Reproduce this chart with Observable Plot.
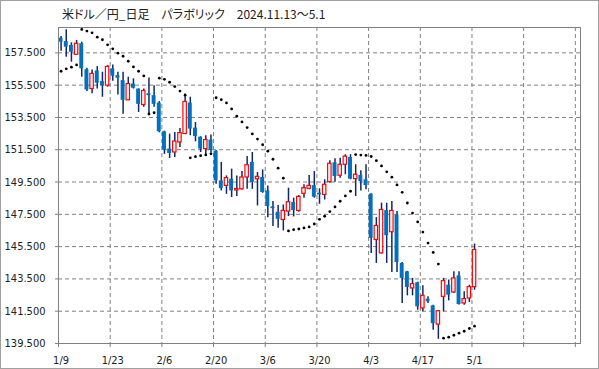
<!DOCTYPE html>
<html><head><meta charset="utf-8">
<script src="https://cdn.jsdelivr.net/npm/d3@7"></script>
<script src="https://cdn.jsdelivr.net/npm/@observablehq/plot@0.6"></script>
<style>
html,body{margin:0;padding:0;background:#fff;}
#wrap{position:relative;width:599px;height:369px;overflow:hidden;}
#border{position:absolute;left:0;top:0;width:597px;height:367px;border:1px solid #a0a0a0;pointer-events:none;}
#title{position:absolute;left:62px;top:6px;font-family:"Noto Sans CJK JP",sans-serif;font-size:12px;line-height:16px;color:#222;white-space:pre;font-feature-settings:"palt";}
svg{display:block;}
</style></head><body>
<div id="wrap"><div id="title">米ドル／円_日足　パラボリック　2024.11.13〜5.1</div><div id="border"></div></div>
<script>
const tickLabels = ["1/9","1/23","2/6","2/20","3/6","3/20","4/3","4/17","5/1"];
const yTicks = [139.5,141.5,143.5,145.5,147.5,149.5,151.5,153.5,155.5,157.5];
const openP = [158.41,158.20,157.96,157.38,158.06,156.46,155.26,156.38,155.72,155.47,
  156.51,156.09,155.78,154.56,155.57,155.26,154.27,154.97,154.85,154.39,
  152.61,151.54,151.33,151.95,152.47,154.39,152.84,152.28,151.54,152.10,
  151.41,149.57,149.26,149.67,148.98,149.05,149.78,150.71,149.67,149.78,
  148.95,147.96,147.63,147.15,147.67,148.23,147.71,148.77,149.08,149.28,
  148.81,148.70,149.49,150.69,149.89,150.57,151.02,149.68,149.91,149.64,
  148.75,145.91,145.08,147.73,146.39,147.46,144.46,143.94,142.91,143.26,
  141.67,142.25,141.83,140.67,142.39,143.11,142.66,143.69,141.98,142.29,142.99];
const highP = [158.51,158.93,158.12,158.27,158.16,156.55,156.44,156.65,156.30,156.71,
  156.75,156.30,156.30,155.99,155.89,155.26,155.26,155.95,155.47,154.48,
  152.65,152.47,152.57,152.82,154.95,154.75,153.19,152.30,152.37,152.41,
  151.45,150.71,149.88,150.30,149.88,150.15,151.08,151.33,150.09,150.25,
  149.26,148.30,148.04,148.08,149.12,148.50,148.66,149.33,149.90,150.15,
  149.08,149.64,150.82,150.94,150.98,151.19,151.19,150.57,150.20,150.57,
  148.78,147.30,148.19,148.19,148.29,147.67,144.52,143.97,143.53,143.30,
  143.07,142.39,141.87,141.55,143.53,143.43,143.94,143.94,142.70,143.11,145.66];
const lowP = [157.60,157.23,156.92,157.38,155.99,155.10,154.97,155.26,154.75,155.37,
  155.74,154.89,153.69,154.56,155.26,153.81,154.13,153.61,154.13,152.55,
  151.21,150.96,151.02,151.64,152.47,152.37,151.99,151.33,151.16,151.33,
  149.36,148.95,148.74,148.54,148.60,149.00,149.05,149.05,148.02,148.80,
  147.29,146.75,146.63,146.47,147.36,147.34,147.63,148.50,149.02,148.50,
  148.12,148.39,149.43,149.49,149.74,149.95,149.64,148.60,148.95,149.02,
  145.08,144.46,145.05,144.46,143.90,143.90,141.98,142.45,142.45,141.56,
  141.46,141.98,140.32,139.76,141.46,142.14,142.60,141.88,141.87,142.04,142.80];
const closeP = [158.16,157.85,157.54,158.06,156.51,155.20,156.20,155.62,155.47,156.63,
  156.05,155.93,154.56,155.57,155.31,154.31,155.14,154.85,154.31,152.61,
  151.48,151.27,152.01,152.53,154.46,152.78,152.32,151.54,152.10,151.45,
  149.57,149.09,149.74,148.95,149.07,149.78,150.54,149.47,149.82,148.85,
  147.98,147.85,147.19,147.71,148.25,147.73,148.58,149.12,149.26,148.56,
  148.70,149.33,150.63,149.84,150.57,151.07,149.68,149.95,149.53,149.28,
  146.01,146.78,147.77,146.18,147.71,144.52,143.53,142.97,143.18,141.77,
  142.45,142.08,140.73,141.50,143.36,142.49,143.53,141.91,142.25,142.99,145.29];
const sarP = [156.36,156.51,156.61,156.75,158.95,158.85,158.74,158.47,158.31,158.00,
  157.75,157.48,157.29,156.98,156.63,156.36,156.07,153.72,153.79,155.93,
  155.86,155.68,155.41,155.13,154.88,151.00,151.07,151.13,151.18,151.25,
  154.72,154.60,154.40,154.03,153.58,153.22,152.87,152.48,152.16,151.81,
  151.41,150.91,150.36,149.74,146.47,146.55,146.59,146.66,146.72,146.90,
  147.19,147.38,147.67,147.96,148.31,148.64,148.93,151.20,151.17,151.15,
  151.08,150.82,150.50,150.13,149.80,149.32,148.86,148.20,147.58,147.03,
  146.40,145.72,145.14,144.42,139.83,139.89,140.01,140.14,140.26,140.43,140.57];

const data = openP.map((o, i) => ({i, o, h: highP[i], l: lowP[i], c: closeP[i], up: closeP[i] > o}));
const sarData = sarP.map((v, i) => ({i, v}));
const gridIdx = d3.range(0, 101, 10);
const labelIdx = d3.range(0, 81, 10);
const grey = "#808080";

const chart = Plot.plot({
  width: 599, height: 369,
  marginLeft: 58, marginRight: 19, marginTop: 27, marginBottom: 26,
  style: {fontFamily: '"DejaVu Sans Condensed","DejaVu Sans",sans-serif', fontSize: "11px", color: "#222", background: "transparent"},
  x: {type: "linear", domain: [-0.5, 100.5], axis: null},
  y: {domain: [139.5, 159.07], axis: null},
  marks: [
    Plot.ruleY(yTicks, {stroke: grey, strokeDasharray: "4,3"}),
    Plot.ruleX(gridIdx, {x: d => d - 0.5, stroke: grey, strokeDasharray: "4,3"}),
    Plot.ruleX(data, {x: "i", y1: "l", y2: "h", stroke: "#10286a", strokeWidth: 1.5}),
    Plot.rect(data.filter(d => !d.up), {x1: d => d.i - 0.38, x2: d => d.i + 0.38, y1: "o", y2: "c", fill: "#0070c0"}),
    Plot.rect(data.filter(d => d.up), {x1: d => d.i - 0.33, x2: d => d.i + 0.33, y1: "o", y2: "c", fill: "white", stroke: "#ff0000", strokeWidth: 1.2}),
    Plot.dot(sarData, {x: "i", y: "v", r: 1.4, fill: "black"}),
    Plot.frame({stroke: grey}),
    Plot.axisY(yTicks, {tickSize: 3, tickPadding: 10, tickFormat: d => d.toFixed(3), stroke: grey, label: null}),
    Plot.axisX(gridIdx.map(d => d - 0.5), {tickSize: 4, tickFormat: () => "", stroke: grey, label: null}),
    Plot.axisX(labelIdx, {tickSize: 0, tickPadding: 13, tickFormat: d => tickLabels[d / 10], label: null})
  ]
});
document.getElementById("wrap").prepend(chart);
</script>
</body></html>
